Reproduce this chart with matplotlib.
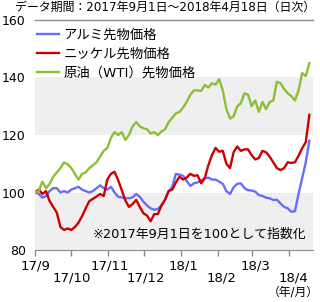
import pandas as pd
import matplotlib
matplotlib.use("Agg")
from matplotlib import pyplot as plt
import matplotlib.transforms as mtransforms

# 数字は Verdana 風の DejaVu、和文は Noto CJK
plt.rcParams['font.family'] = ['DejaVu Sans', 'Noto Sans CJK JP']

# 指数 (2017/9/1 = 100)、約3日おき
aluminium = [100.3, 99.5, 98.2, 98.8, 100.5, 101.5, 101.5, 100.0, 100.5, 100.0,
             101.0, 101.5, 102.0, 101.0, 100.5, 100.0, 100.5, 101.5, 102.5, 101.5,
             101.0, 102.0, 100.0, 98.5, 98.3, 98.0, 98.0, 98.3, 99.5, 98.5,
             96.8, 95.5, 94.5, 94.0, 94.3, 95.5, 97.5, 100.5, 102.0, 106.5,
             106.2, 105.8, 104.0, 102.3, 103.2, 103.5, 104.2, 104.9, 105.2, 104.5,
             104.5, 103.8, 103.0, 100.5, 99.5, 101.8, 103.0, 103.2, 101.5, 100.8,
             100.7, 100.3, 99.1, 98.8, 98.2, 98.0, 97.4, 97.5, 96.2, 95.0,
             94.5, 93.3, 93.5, 99.5, 105.0, 110.5, 118.0]
nickel = [100.0, 101.0, 99.5, 100.5, 97.0, 95.0, 93.0, 88.0, 87.0, 87.5,
          87.0, 88.0, 89.5, 91.8, 94.5, 97.0, 97.8, 98.6, 99.5, 98.8,
          104.5, 106.5, 107.2, 104.3, 100.8, 97.2, 95.0, 96.0, 97.4, 95.0,
          92.8, 92.0, 90.0, 92.5, 92.5, 95.5, 97.5, 100.5, 101.0, 103.5,
          105.5, 104.5, 105.2, 106.5, 105.8, 106.0, 103.2, 105.0, 109.5, 113.0,
          115.5, 114.2, 114.5, 110.0, 108.5, 114.0, 116.0, 114.5, 115.0, 115.0,
          113.0, 111.5, 112.0, 114.5, 114.0, 112.5, 110.5, 108.5, 107.8, 108.5,
          110.5, 110.3, 110.5, 112.8, 115.4, 117.5, 127.0]
wti = [100.0, 100.5, 103.8, 101.5, 103.0, 105.5, 107.0, 108.5, 110.5, 109.8,
       108.5, 106.5, 104.5, 106.5, 107.0, 108.5, 109.5, 110.5, 112.5, 114.5,
       115.5, 119.0, 121.0, 120.0, 121.0, 118.3, 120.0, 123.0, 124.5, 123.0,
       122.3, 122.0, 120.5, 121.0, 120.0, 121.2, 122.0, 124.5, 126.0, 127.5,
       128.0, 129.5, 131.5, 134.0, 135.5, 135.5, 135.3, 137.4, 136.5, 138.0,
       137.5, 139.4, 135.5, 129.0, 125.7, 126.5, 130.0, 131.0, 134.5, 134.0,
       130.0, 132.0, 128.0, 131.5, 129.0, 131.5, 132.0, 138.5, 138.0, 136.0,
       134.5, 133.5, 132.0, 135.5, 141.5, 140.5, 145.0]

names = ["アルミ先物価格", "ニッケル先物価格", "原油（WTI）先物価格"]
colors = ["#6b6bff", "#cc0000", "#8cbf36"]
month_labels = ["17/9", "17/10", "17/11", "17/12", "18/1", "18/2", "18/3", "18/4"]
yticks = [80, 100, 120, 140, 160]

dates = pd.date_range("2017-09-01", "2018-04-18", periods=len(wti))
months = pd.date_range("2017-09-01", "2018-04-01", freq="MS")

fig = plt.figure(figsize=(3.2, 3.02), dpi=100)
ax = fig.add_axes([0.109, 0.172, 0.869, 0.762])

ax.axhspan(80, 100, color="#efefef", lw=0, zorder=0)
ax.axhspan(120, 140, color="#efefef", lw=0, zorder=0)
ax.axhline(160, color="#8c8c8c", lw=1, clip_on=False)

series = [aluminium, nickel, wti]
for vals, name, c in zip(series, names, colors):
    ax.plot(dates, vals, color=c, lw=1.7, label=name, zorder=3)

ax.set_ylim(80, 160)
ax.set_xlim(pd.Timestamp("2017-08-31 18:00"), pd.Timestamp("2018-04-21"))
ax.set_yticks(yticks)
ax.tick_params(axis="y", length=0, pad=6.5, labelsize=9)
ax.set_xticks(months)
ax.set_xticklabels([])
ax.tick_params(axis="x", direction="out", length=4, color="#8c8c8c", width=1)
for s in ["top", "right", "left"]:
    ax.spines[s].set_visible(False)
ax.spines["bottom"].set_color("#8c8c8c")

trans = mtransforms.blended_transform_factory(ax.transData, fig.transFigure)
for i, (m, lab) in enumerate(zip(months, month_labels)):
    yy = 0.119 if i % 2 == 0 else 0.081
    ax.text(m + pd.Timedelta(days=i * 0.5), yy, lab, transform=trans,
            ha="center", va="center", fontsize=9.5)
ax.text(0.995, 0.033, "（年/月）", transform=fig.transFigure,
        ha="right", va="center", fontsize=8.5)

fig.text(0.985, 0.975, "データ期間：2017年9月1日～2018年4月18日（日次）",
         ha="right", va="center", fontsize=8.6)
ax.text(0.975, 0.07, "※2017年9月1日を100として指数化", transform=ax.transAxes,
        ha="right", va="center", fontsize=9.3)

ax.legend(loc="upper left", bbox_to_anchor=(-0.01, 0.985), frameon=False,
          fontsize=9.6, handlelength=1.6, handletextpad=0.35, labelspacing=0.45,
          borderaxespad=0)

fig.savefig("out.png", dpi=100)
